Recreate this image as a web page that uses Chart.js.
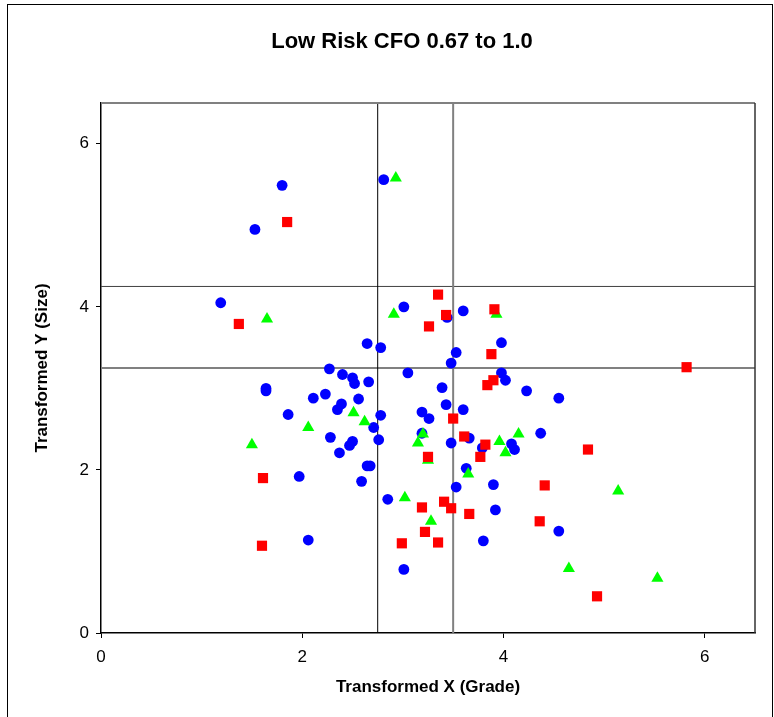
<!DOCTYPE html>
<html>
<head>
<meta charset="utf-8">
<script src="https://cdn.jsdelivr.net/npm/chart.js@4.4.1/dist/chart.umd.min.js"></script>
<style>
html,body{margin:0;padding:0;background:#fff;overflow:hidden;}
#wrap{position:absolute;left:0;top:0;width:774px;height:717px;}
</style>
</head>
<body>
<div id="wrap"><canvas id="c" width="774" height="717"></canvas></div>
<script>
const chartTitle = 'Low Risk CFO 0.67 to 1.0';
const xAxisTitle = 'Transformed X (Grade)';
const yAxisTitle = 'Transformed Y (Size)';
const xTicks = [0, 2, 4, 6];
const yTicks = [0, 2, 4, 6];
const quadrantX = [2.75, 3.5];
const quadrantY = [3.25, 4.25];

const blueX = [1.53,1.80,2.81,1.19,1.64,1.64,1.86,1.97,2.06,2.645,2.78,2.27,2.40,2.50,2.52,2.66,2.11,2.23,2.56,2.35,2.39,2.78,2.71,2.76,2.28,2.50,2.47,2.37,2.645,2.675,2.59,3.01,3.44,3.60,3.98,3.53,3.48,3.05,3.98,4.02,4.23,4.55,3.39,3.43,3.60,3.19,3.26,3.19,3.48,3.66,3.79,4.08,4.11,4.37,3.63,3.53,3.90,2.85,3.92,3.80,4.55,3.01];
const blueY = [4.95,5.49,5.56,4.05,2.97,3.00,2.68,1.92,1.14,3.55,3.50,3.24,3.17,3.13,3.06,3.08,2.88,2.93,2.87,2.74,2.81,2.67,2.52,2.37,2.40,2.35,2.30,2.21,2.05,2.05,1.86,4.00,3.87,3.95,3.56,3.44,3.31,3.19,3.19,3.10,2.97,2.88,3.01,2.80,2.74,2.71,2.63,2.45,2.33,2.39,2.27,2.32,2.25,2.45,2.02,1.79,1.82,1.64,1.51,1.13,1.25,0.78];

const redX = [1.85,1.37,1.61,1.60,3.35,3.43,3.91,3.26,3.88,3.90,3.84,3.50,3.61,3.82,3.77,3.25,5.82,4.84,4.41,3.19,3.41,3.48,3.66,3.22,3.35,2.99,4.36,4.93];
const redY = [5.04,3.79,1.90,1.07,4.15,3.90,3.97,3.76,3.42,3.10,3.04,2.63,2.41,2.31,2.16,2.16,3.26,2.25,1.81,1.54,1.61,1.53,1.46,1.24,1.11,1.10,1.37,0.45];

const greenX = [1.65,2.51,2.62,2.06,1.50,2.93,2.91,3.93,3.20,3.15,3.25,3.96,4.15,4.02,3.65,3.02,3.28,5.14,4.65,5.53];
const greenY = [3.85,2.70,2.59,2.52,2.31,5.58,3.91,3.91,2.44,2.33,2.12,2.35,2.44,2.21,1.95,1.66,1.37,1.74,0.79,0.67];

const xMin = 0, xMax = 6.5, yMin = 0, yMax = 6.5;

function pts(xs, ys){ return xs.map((x,i)=>({x:x, y:ys[i]})); }

const FONT = "'Liberation Sans', Arial, sans-serif";

const decor = {
  id: 'decor',
  beforeDraw(chart){
    const ctx = chart.ctx;
    ctx.save();
    ctx.fillStyle = '#fff';
    ctx.fillRect(0,0,chart.width,chart.height);
    ctx.strokeStyle = '#000';
    ctx.lineWidth = 1;
    ctx.strokeRect(7.5, 4.5, 765, 800);
    ctx.restore();
  },
  afterDraw(chart){
    const ctx = chart.ctx;
    const a = chart.chartArea;
    ctx.save();
    ctx.lineWidth = 2;
    ctx.strokeStyle = '#808080';
    ctx.beginPath(); ctx.moveTo(a.left, a.top); ctx.lineTo(a.right, a.top); ctx.stroke();
    ctx.lineWidth = 1.5;
    ctx.strokeStyle = '#333';
    ctx.beginPath(); ctx.moveTo(a.right, a.top); ctx.lineTo(a.right, a.bottom); ctx.stroke();
    ctx.fillStyle = '#000';
    ctx.textAlign = 'center';
    ctx.textBaseline = 'middle';
    ctx.font = "bold 22px " + FONT;
    ctx.fillText(chartTitle, 402, 42);
    ctx.restore();
  }
};

const lineDs = [];
quadrantX.forEach((v,i)=>{
  lineDs.push({type:'line', data:[{x:v,y:yMin},{x:v,y:yMax}], borderColor: i===0?'#000':'#808080', borderWidth: i===0?1:2, pointRadius:0, fill:false});
});
quadrantY.forEach((v,i)=>{
  lineDs.push({type:'line', data:[{x:xMin,y:v},{x:xMax,y:v}], borderColor: i===0?'#808080':'#404040', borderWidth: i===0?2:1, pointRadius:0, fill:false});
});

new Chart(document.getElementById('c'), {
  type: 'scatter',
  data: {
    datasets: [
      {label:'red', data: pts(redX, redY), pointStyle:'rect', pointRadius:7.2, backgroundColor:'#FF0000', borderColor:'#FF0000', borderWidth:0},
      {label:'green', data: pts(greenX, greenY), pointStyle:'triangle', pointRadius:7, backgroundColor:'#00FF00', borderColor:'#00FF00', borderWidth:0},
      {label:'blue', data: pts(blueX, blueY), pointStyle:'circle', pointRadius:5.4, backgroundColor:'#0000FF', borderColor:'#0000FF', borderWidth:0},
      ...lineDs
    ]
  },
  options: {
    responsive: false,
    animation: false,
    devicePixelRatio: 1,
    layout: { padding: { top: 103, right: 19, bottom: 0, left: 0 } },
    plugins: { legend: {display:false}, tooltip: {enabled:false}, title: {display:false} },
    scales: {
      x: {
        type: 'linear', min: xMin, max: xMax,
        afterFit(s){ s.height = 84; },
        afterBuildTicks(s){ s.ticks = xTicks.map(v=>({value:v})); },
        grid: { drawOnChartArea:false, drawTicks:true, tickLength:5, color:'#000', tickColor:'#000' },
        border: { display:true, color:'#000', width:1.5 },
        ticks: { color:'#000', font:{family:FONT, size:17}, padding:9, maxRotation:0 },
        title: { display:true, text:xAxisTitle, color:'#000', font:{family:FONT, size:17, weight:'bold'}, padding:{top:0,bottom:19} }
      },
      y: {
        type: 'linear', min: yMin, max: yMax,
        afterFit(s){ s.width = 101; },
        afterBuildTicks(s){ s.ticks = yTicks.map(v=>({value:v})); },
        grid: { drawOnChartArea:false, drawTicks:true, tickLength:5, color:'#000', tickColor:'#000' },
        border: { display:true, color:'#000', width:1.5 },
        ticks: { color:'#000', font:{family:FONT, size:17}, padding:7 },
        title: { display:true, text:yAxisTitle, color:'#000', font:{family:FONT, size:17, weight:'bold'}, padding:{top:32,bottom:0} }
      }
    }
  },
  plugins: [decor]
});
</script>
</body>
</html>
